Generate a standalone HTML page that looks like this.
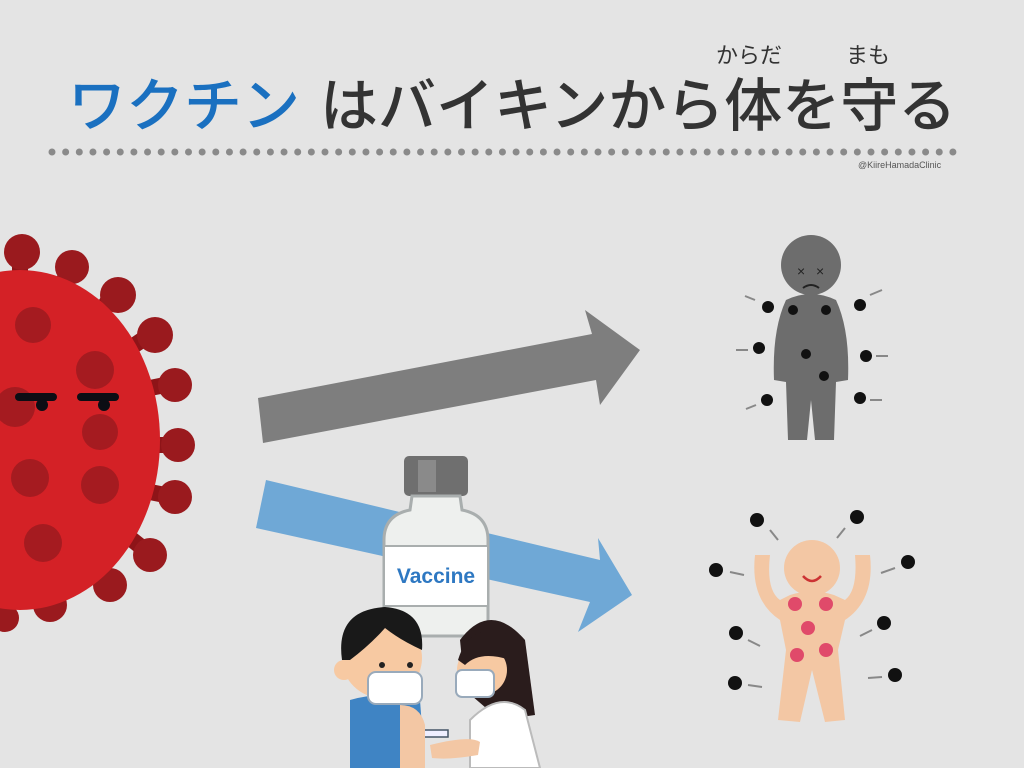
<!DOCTYPE html>
<html><head><meta charset="utf-8"><style>
html,body{margin:0;padding:0;background:#e4e4e4;}
svg{display:block}
text{font-family:"Liberation Sans","Noto Sans CJK JP",sans-serif}
</style></head><body>
<svg width="1024" height="768" viewBox="0 0 1024 768">
<rect width="1024" height="768" fill="#e4e4e4"/>
<text x="68" y="126" font-size="58" font-weight="500" fill="#1a70c0">ワクチン</text>
<text x="320" y="126" font-size="58" font-weight="500" fill="#333">はバイキンから体を守る</text>
<text x="716" y="63" font-size="22" fill="#333">からだ</text>
<text x="846" y="63" font-size="22" fill="#333">まも</text>
<line x1="52" y1="152" x2="962" y2="152" stroke="#8a8a8a" stroke-width="7" stroke-linecap="round" stroke-dasharray="0 13.65"/>
<text x="858" y="168" font-size="9" fill="#555">@KiireHamadaClinic</text>

<!-- gray arrow -->
<polygon points="258,398 592,334 585,310 640,350 600,405 596,380 263,443" fill="#7e7e7e"/>
<!-- blue arrow -->
<polygon points="266,480 600,560 598,538 632,595 578,632 590,602 256,528" fill="#6fa8d6"/>

<!-- virus -->
<g>
<g stroke="#8e1418" stroke-width="16" stroke-linecap="round" fill="#9a1a1e">
<line x1="20" y1="285" x2="20" y2="255"/><circle cx="22" cy="252" r="18" stroke="none"/>
<line x1="55" y1="295" x2="70" y2="270"/><circle cx="72" cy="267" r="17" stroke="none"/>
<line x1="95" y1="320" x2="110" y2="298"/><circle cx="118" cy="295" r="18" stroke="none"/>
<line x1="120" y1="355" x2="145" y2="338"/><circle cx="155" cy="335" r="18" stroke="none"/>
<line x1="140" y1="390" x2="165" y2="385"/><circle cx="175" cy="385" r="17" stroke="none"/>
<line x1="145" y1="445" x2="170" y2="445"/><circle cx="178" cy="445" r="17" stroke="none"/>
<line x1="140" y1="490" x2="165" y2="495"/><circle cx="175" cy="497" r="17" stroke="none"/>
<line x1="120" y1="530" x2="145" y2="550"/><circle cx="150" cy="555" r="17" stroke="none"/>
<line x1="85" y1="560" x2="100" y2="580"/><circle cx="110" cy="585" r="17" stroke="none"/>
<line x1="40" y1="580" x2="48" y2="600"/><circle cx="50" cy="605" r="17" stroke="none"/>
<line x1="0" y1="600" x2="5" y2="615"/><circle cx="5" cy="618" r="14" stroke="none"/>
</g>
<ellipse cx="20" cy="440" rx="140" ry="170" fill="#d42126"/>
<g fill="#a51b20">
<circle cx="33" cy="325" r="18"/><circle cx="95" cy="370" r="19"/><circle cx="15" cy="407" r="20"/>
<circle cx="100" cy="432" r="18"/><circle cx="30" cy="478" r="19"/><circle cx="100" cy="485" r="19"/>
<circle cx="43" cy="543" r="19"/>
</g>
<g fill="#0c0d14">
<rect x="15" y="393" width="42" height="8" rx="4"/><circle cx="42" cy="405" r="6"/>
<rect x="77" y="393" width="42" height="8" rx="4"/><circle cx="104" cy="405" r="6"/>
</g>
</g>

<!-- gray person -->
<g fill="#6d6d6d">
<circle cx="811" cy="265" r="30"/>
<path d="M786,300 Q811,288 836,300 Q850,330 848,380 L836,382 L834,440 L815,440 L811,400 L807,440 L788,440 L786,382 L774,380 Q772,330 786,300Z"/>
</g>
<text x="797" y="276" font-size="14" fill="#222">×</text><text x="816" y="276" font-size="14" fill="#222">×</text>
<path d="M803,288 Q811,282 819,288" stroke="#222" stroke-width="2" fill="none"/>
<g fill="#111">
<circle cx="768" cy="307" r="6"/><circle cx="860" cy="305" r="6"/><circle cx="759" cy="348" r="6"/>
<circle cx="866" cy="356" r="6"/><circle cx="767" cy="400" r="6"/><circle cx="860" cy="398" r="6"/>
<circle cx="793" cy="310" r="5"/><circle cx="826" cy="310" r="5"/><circle cx="806" cy="354" r="5"/><circle cx="824" cy="376" r="5"/>
</g>
<g stroke="#888" stroke-width="2" fill="none">
<path d="M755,300 l-10,-4"/><path d="M870,295 l12,-5"/><path d="M748,350 l-12,0"/><path d="M876,356 l12,0"/><path d="M756,405 l-10,4"/><path d="M870,400 l12,0"/>
</g>

<!-- pink person -->
<g fill="#f3c7a4">
<circle cx="812" cy="568" r="28"/>
<path d="M790,595 Q812,588 834,595 L845,600 Q858,590 855,555 L870,555 Q875,600 845,620 L838,650 L845,720 L825,722 L812,670 L800,722 L778,720 L786,650 L780,620 Q750,600 755,555 L770,555 Q766,590 780,600Z"/>
</g>
<path d="M803,576 Q812,586 821,576" stroke="#c33" stroke-width="2.5" fill="none"/>
<g fill="#e04a6a"><circle cx="795" cy="604" r="7"/><circle cx="826" cy="604" r="7"/><circle cx="808" cy="628" r="7"/><circle cx="797" cy="655" r="7"/><circle cx="826" cy="650" r="7"/></g>
<g fill="#111">
<circle cx="757" cy="520" r="7"/><circle cx="857" cy="517" r="7"/><circle cx="716" cy="570" r="7"/><circle cx="908" cy="562" r="7"/>
<circle cx="736" cy="633" r="7"/><circle cx="884" cy="623" r="7"/><circle cx="735" cy="683" r="7"/><circle cx="895" cy="675" r="7"/>
</g>
<g stroke="#888" stroke-width="2" fill="none">
<path d="M770,530 l8,10"/><path d="M845,528 l-8,10"/><path d="M730,572 l14,3"/><path d="M895,568 l-14,5"/><path d="M748,640 l12,6"/><path d="M872,630 l-12,6"/><path d="M748,685 l14,2"/><path d="M882,677 l-14,1"/>
</g>

<!-- vaccine bottle -->
<rect x="404" y="456" width="64" height="40" rx="5" fill="#6f6f6f"/>
<rect x="418" y="460" width="18" height="32" fill="#8a8a8a"/>
<path d="M412,496 L460,496 L462,510 Q488,515 488,540 L488,628 Q488,636 480,636 L392,636 Q384,636 384,628 L384,540 Q384,515 410,510Z" fill="#eef0ee" stroke="#a9aeae" stroke-width="3"/>
<rect x="385" y="546" width="102" height="60" fill="#fff"/>
<line x1="385" y1="546" x2="487" y2="546" stroke="#a9aeae" stroke-width="2"/>
<line x1="385" y1="606" x2="487" y2="606" stroke="#a9aeae" stroke-width="2"/>
<text x="436" y="583" font-size="21" font-weight="bold" fill="#2e78c2" text-anchor="middle">Vaccine</text>

<!-- nurse -->
<path d="M460,640 Q490,600 525,640 L535,715 L500,720 L465,690Z" fill="#2a1c1c"/>
<circle cx="482" cy="670" r="25" fill="#f7c9a2"/>
<path d="M458,660 Q470,620 510,635 L510,660 Q480,650 465,665Z" fill="#2a1c1c"/>
<rect x="456" y="670" width="38" height="27" rx="6" fill="#fff" stroke="#9ab" stroke-width="2"/>
<path d="M470,720 Q500,690 525,710 L540,768 L470,768Z" fill="#fff" stroke="#bbb" stroke-width="2"/>
<path d="M430,745 Q470,735 480,742 L478,755 Q450,760 432,758Z" fill="#f3c7a4"/>
<rect x="418" y="730" width="30" height="7" fill="#eef" stroke="#456" stroke-width="1.5"/>

<!-- boy -->
<path d="M350,700 Q385,690 420,700 L425,768 L350,768Z" fill="#3f84c4"/>
<path d="M400,705 Q420,705 425,725 L425,768 L400,768Z" fill="#f3c7a4"/>
<circle cx="382" cy="658" r="40" fill="#f7c9a2"/>
<circle cx="344" cy="670" r="10" fill="#f7c9a2"/>
<path d="M342,660 Q335,610 385,607 Q425,610 422,650 Q400,640 385,628 Q370,645 350,660Z" fill="#191919"/>
<circle cx="382" cy="665" r="3" fill="#222"/><circle cx="410" cy="665" r="3" fill="#222"/>
<rect x="368" y="672" width="54" height="32" rx="8" fill="#fff" stroke="#9ab" stroke-width="2"/>
</svg>
</body></html>
